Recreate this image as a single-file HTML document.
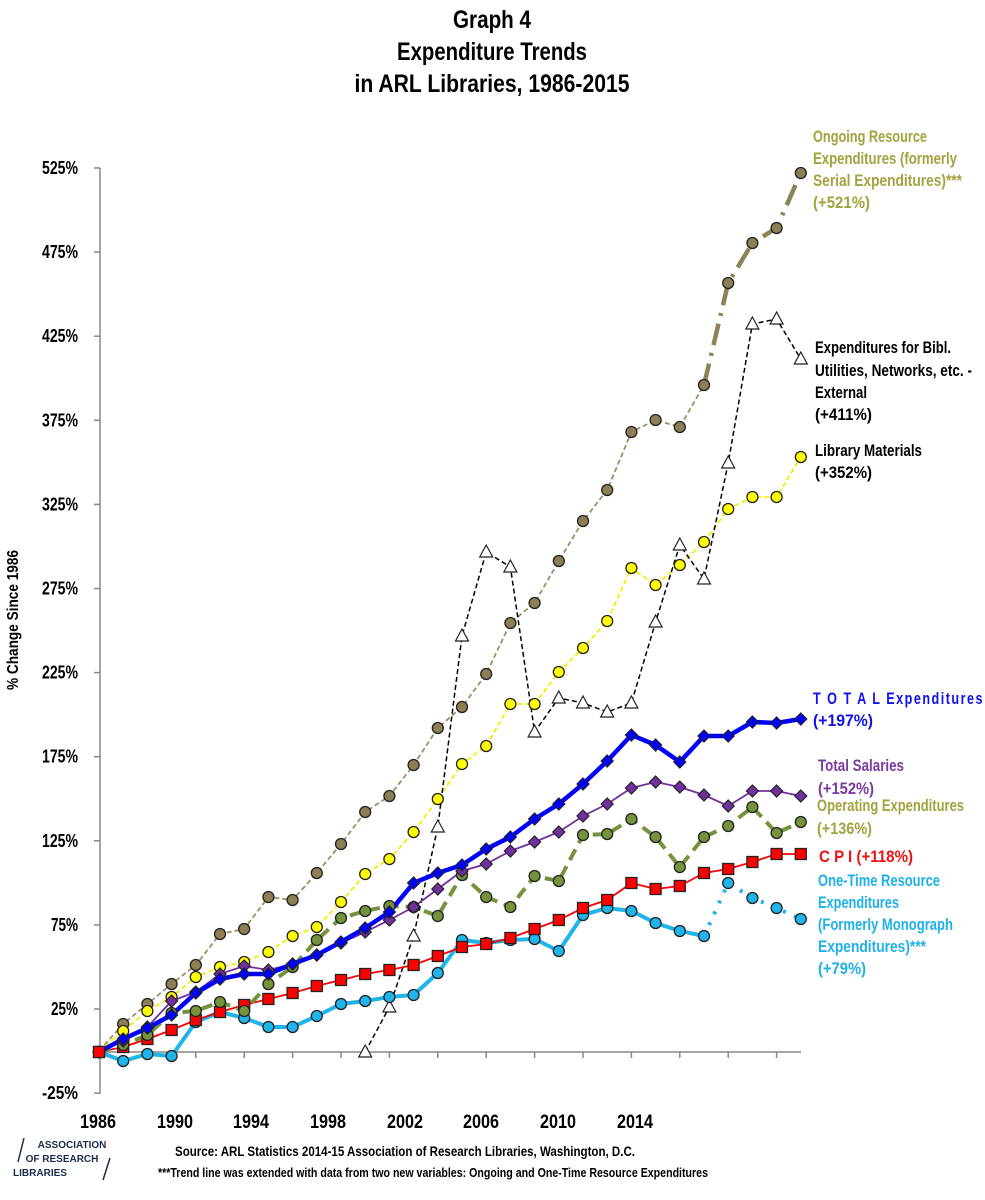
<!DOCTYPE html>
<html><head><meta charset="utf-8">
<style>
html,body{margin:0;padding:0;background:#fff;}
svg{display:block;}
text{font-family:"Liberation Sans Narrow","Liberation Sans",sans-serif;font-weight:bold;}
</style></head>
<body>
<svg id="s" xmlns="http://www.w3.org/2000/svg" width="985" height="1200" viewBox="0 0 985 1200">
<text x="492" y="28" font-size="25" text-anchor="middle" textLength="78" lengthAdjust="spacingAndGlyphs">Graph 4</text>
<text x="492" y="60" font-size="25" text-anchor="middle" textLength="190" lengthAdjust="spacingAndGlyphs">Expenditure Trends</text>
<text x="492" y="92" font-size="25" text-anchor="middle" textLength="275" lengthAdjust="spacingAndGlyphs">in ARL Libraries, 1986-2015</text>

<text transform="translate(18,620) rotate(-90)" font-size="16" text-anchor="middle" textLength="140" lengthAdjust="spacingAndGlyphs">% Change Since 1986</text>

<g id="axes" stroke="#888" stroke-width="1.5" fill="none">
<line x1="100" y1="168" x2="100" y2="1094"/>
<line x1="100" y1="1052" x2="801" y2="1052"/>
</g>
<g id="ylab" font-size="18" text-anchor="end"></g>
<g id="xlab" font-size="19" text-anchor="middle">
<text x="98" y="1128" textLength="36" lengthAdjust="spacingAndGlyphs">1986</text><text x="175" y="1128" textLength="36" lengthAdjust="spacingAndGlyphs">1990</text><text x="251" y="1128" textLength="36" lengthAdjust="spacingAndGlyphs">1994</text><text x="328" y="1128" textLength="36" lengthAdjust="spacingAndGlyphs">1998</text><text x="405" y="1128" textLength="36" lengthAdjust="spacingAndGlyphs">2002</text><text x="481" y="1128" textLength="36" lengthAdjust="spacingAndGlyphs">2006</text><text x="558" y="1128" textLength="36" lengthAdjust="spacingAndGlyphs">2010</text><text x="635" y="1128" textLength="36" lengthAdjust="spacingAndGlyphs">2014</text>
</g>
<g id="series"></g>

<g font-size="17">
<g fill="#a3a23f">
<text x="813" y="142" textLength="114" lengthAdjust="spacingAndGlyphs">Ongoing Resource</text>
<text x="813" y="164" textLength="144" lengthAdjust="spacingAndGlyphs">Expenditures (formerly</text>
<text x="813" y="186" textLength="149" lengthAdjust="spacingAndGlyphs">Serial Expenditures)***</text>
<text x="813" y="208" textLength="57" lengthAdjust="spacingAndGlyphs">(+521%)</text>
</g>
<g fill="#000">
<text x="815" y="353" textLength="136" lengthAdjust="spacingAndGlyphs">Expenditures for Bibl.</text>
<text x="815" y="376" textLength="157" lengthAdjust="spacingAndGlyphs">Utilities, Networks, etc. -</text>
<text x="815" y="398" textLength="52" lengthAdjust="spacingAndGlyphs">External</text>
<text x="815" y="420" textLength="57" lengthAdjust="spacingAndGlyphs">(+411%)</text>
<text x="815" y="456" textLength="107" lengthAdjust="spacingAndGlyphs">Library Materials</text>
<text x="815" y="478" textLength="57" lengthAdjust="spacingAndGlyphs">(+352%)</text>
</g>
<g fill="#1010ee">
<text x="813" y="704" textLength="171" lengthAdjust="spacingAndGlyphs" letter-spacing="2">T O T A L  Expenditures</text>
<text x="813" y="726" textLength="60" lengthAdjust="spacingAndGlyphs">(+197%)</text>
</g>
<g fill="#7a3aa0">
<text x="818" y="771" textLength="86" lengthAdjust="spacingAndGlyphs">Total Salaries</text>
<text x="818" y="794" textLength="56" lengthAdjust="spacingAndGlyphs">(+152%)</text>
</g>
<g fill="#a3a23f">
<text x="817" y="811" textLength="147" lengthAdjust="spacingAndGlyphs">Operating Expenditures</text>
<text x="817" y="834" textLength="55" lengthAdjust="spacingAndGlyphs">(+136%)</text>
</g>
<text x="819" y="862" fill="#ee1111" textLength="94" lengthAdjust="spacingAndGlyphs">C P I  (+118%)</text>
<g fill="#1fb0e8">
<text x="818" y="886" textLength="122" lengthAdjust="spacingAndGlyphs">One-Time Resource</text>
<text x="818" y="908" textLength="81" lengthAdjust="spacingAndGlyphs">Expenditures</text>
<text x="818" y="930" textLength="135" lengthAdjust="spacingAndGlyphs">(Formerly Monograph</text>
<text x="818" y="952" textLength="108" lengthAdjust="spacingAndGlyphs">Expenditures)***</text>
<text x="818" y="974" textLength="48" lengthAdjust="spacingAndGlyphs">(+79%)</text>
</g>
</g>

<g fill="#1c2b4a">
<text x="72" y="1148" font-size="10" text-anchor="middle" font-weight="normal">ASSOCIATION</text>
<text x="62" y="1162" font-size="10" text-anchor="middle" font-weight="normal">OF RESEARCH</text>
<text x="40" y="1176" font-size="10" text-anchor="middle">LIBRARIES</text>
</g>
<line x1="24" y1="1138" x2="18" y2="1162" stroke="#1c2b4a" stroke-width="1.5"/>
<line x1="110" y1="1158" x2="103" y2="1180" stroke="#1c2b4a" stroke-width="1.5"/>
<text x="405" y="1156" font-size="14" font-weight="normal" text-anchor="middle" textLength="460" lengthAdjust="spacingAndGlyphs">Source: ARL Statistics 2014-15 Association of Research Libraries, Washington, D.C.</text>
<text x="158" y="1177" font-size="13" textLength="550" lengthAdjust="spacingAndGlyphs">***Trend line was extended with data from two new variables: Ongoing and One-Time Resource Expenditures</text>
</svg>
<script>
(function(){
var NS="http://www.w3.org/2000/svg";
var s=document.getElementById('series');
function el(n,a,p){var e=document.createElementNS(NS,n);for(var k in a)e.setAttribute(k,a[k]);(p||s).appendChild(e);return e;}
var yl=document.getElementById('ylab');
var labs=["525%","475%","425%","375%","325%","275%","225%","175%","125%","75%","25%","-25%"];
for(var i=0;i<labs.length;i++){var y=168+i*84.1;
 var w=labs[i].length*9;
 var t=el('text',{x:78,y:y+6,textLength:w,lengthAdjust:'spacingAndGlyphs'},yl);t.textContent=labs[i];
 el('line',{x1:94,y1:y,x2:100,y2:y,stroke:'#888','stroke-width':1.5});}
for(var i=1;i<15;i++){var x=99+i*2*24.2;el('line',{x1:x,y1:1052,x2:x,y2:1058,stroke:'#888','stroke-width':1.5});}
function X(i){return 99+i*24.2;}
function pts(arr,from,to){var r=[];for(var i=from;i<=to;i++){if(arr[i]!=null)r.push(X(i)+','+arr[i]);}return r.join(' ');}
var ongoing=[1051,1024,1004,984,965,934,929,897,900,873,844,812,796,765,728,707,674,623,603,561,521,490,432,420,427,385,283,243,228,173];
var lib=[1051,1031,1011,997,977,967,962,952,936,927,902,874,859,832,799,764,746,704,704,672,648,621,568,585,565,542,509,497,497,457];
var bibl=[null,null,null,null,null,null,null,null,null,null,null,1052,1007,936,827,636,552,567,732,698,703,712,703,622,545,579,463,324,319,359];
var total=[1052,1039,1028,1015,993,979,974,974,964,955,942,928,912,883,873,865,849,837,819,804,784,761,735,745,762,736,736,722,723,719];
var sal=[1052,1041,1027,1001,992,974,966,970,964,955,943,932,920,907,889,871,864,851,842,832,816,804,788,782,787,795,806,791,791,796];
var op=[1052,1045,1035,1013,1011,1002,1011,984,967,940,918,911,906,907,916,875,897,907,876,881,835,834,819,837,867,837,826,807,833,822];
var cpi=[1052,1047,1039,1030,1020,1012,1005,999,993,986,980,974,970,965,956,947,944,938,929,920,908,900,883,889,886,873,869,862,854,854];
var one=[1052,1061,1054,1056,1022,1012,1018,1027,1027,1016,1004,1001,997,995,973,940,943,940,939,951,915,908,911,923,931,936,883,898,908,919];
el('polyline',{points:pts(ongoing,0,25),fill:'none',stroke:'#9c8f63','stroke-width':1.8,'stroke-dasharray':'5,3'});
el('polyline',{points:pts(ongoing,25,29),fill:'none',stroke:'#8c8457','stroke-width':4.5,'stroke-dasharray':'22,8,3,8'});
el('polyline',{points:pts(lib,0,29),fill:'none',stroke:'#f4ee00','stroke-width':1.8,'stroke-dasharray':'5,3'});
el('polyline',{points:pts(bibl,11,29),fill:'none',stroke:'#000','stroke-width':1.5,'stroke-dasharray':'5,3'});
el('polyline',{points:pts(one,0,25),fill:'none',stroke:'#1fb4ea','stroke-width':4});
el('polyline',{points:pts(one,25,29),fill:'none',stroke:'#1fb4ea','stroke-width':4,'stroke-dasharray':'3,9'});
el('polyline',{points:pts(cpi,0,29),fill:'none',stroke:'#ff0000','stroke-width':1.8});
el('polyline',{points:pts(op,0,29),fill:'none',stroke:'#76923c','stroke-width':4,'stroke-dasharray':'12,7'});
el('polyline',{points:pts(sal,0,29),fill:'none',stroke:'#7030a0','stroke-width':1.8});
el('polyline',{points:pts(total,0,29),fill:'none',stroke:'#0000ff','stroke-width':4.5});
function circ(arr,fill,start){for(var i=start||0;i<arr.length;i++)if(arr[i]!=null)el('circle',{cx:X(i),cy:arr[i],r:5.5,fill:fill,stroke:'#222','stroke-width':1.3});}
function diam(arr,fill){for(var i=0;i<arr.length;i++){var x=X(i),y=arr[i];el('polygon',{points:(x)+','+(y-6)+' '+(x+6)+','+y+' '+x+','+(y+6)+' '+(x-6)+','+y,fill:fill,stroke:'#222','stroke-width':1.2});}}
function sq(arr,fill){for(var i=0;i<arr.length;i++)el('rect',{x:X(i)-5.5,y:arr[i]-5.5,width:11,height:11,fill:fill,stroke:'#222','stroke-width':1.3});}
function tri(arr){for(var i=0;i<arr.length;i++)if(arr[i]!=null){var x=X(i),y=arr[i];el('polygon',{points:x+','+(y-7)+' '+(x+6.5)+','+(y+5)+' '+(x-6.5)+','+(y+5),fill:'#fff',stroke:'#222','stroke-width':1.2});}}
circ(ongoing,'#8c7f55',1);
circ(lib,'#ffff00',1);
tri(bibl);
circ(one,'#1fb4ea',1);
sq(cpi,'#ff0000');
circ(op,'#76923c',1);
diam(sal,'#7030a0');
diam(total,'#0000ff');
sq([1052],'#ff0000');
})();
</script>
</body></html>
